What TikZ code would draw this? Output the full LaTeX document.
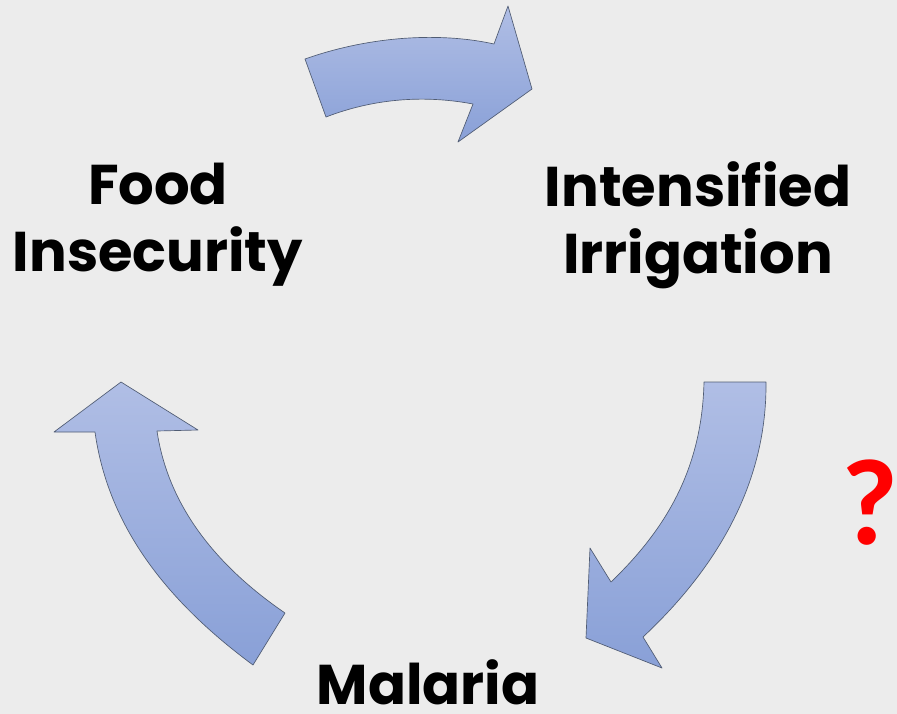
\documentclass[tikz,border=0pt]{standalone}
\usepackage{fontspec}
\setmainfont{Poppins}
\newfontfamily\qfont{Carlito}
\definecolor{paper}{RGB}{236,236,236}
\definecolor{arrowtop}{RGB}{176,190,229}
\definecolor{arrowbot}{RGB}{137,160,215}
\definecolor{arrowline}{RGB}{80,92,115}
\definecolor{qred}{RGB}{255,0,0}
\tikzset{
  cyclearrow/.style={top color=arrowtop, bottom color=arrowbot, draw=arrowline, line width=0.5pt, line join=round},
  stage/.style={align=center, inner sep=0pt, font=\fontsize{42}{50}\selectfont\bfseries}
}
\begin{document}
\begin{tikzpicture}[x=0.75pt, y=-0.75pt]
			\fill[paper] (0,0) rectangle (897,714);
			\useasboundingbox (0,0) rectangle (897,714);
			% top arrow
			\draw[cyclearrow] (305,59) .. controls (370,36) and (440,32) .. (494,44) -- (508,6) -- (532,89) -- (458,142) -- (473,104) .. controls (420,94) and (370,100) .. (326,117) -- cycle;
			% right arrow
			\draw[cyclearrow] (704,382) -- (766,382) .. controls (767,480) and (720,565) .. (643,637) -- (662,668) -- (586,638) -- (590,548) -- (611,582) .. controls (665,530) and (702,470) .. cycle;
			% left arrow
			\draw[cyclearrow] (121,382) -- (198,430) -- (157,431) .. controls (168,505) and (215,565) .. (285,613) -- (253,665) .. controls (165,600) and (108,525) .. (95,432) -- (54,432) -- cycle;
			\node[stage] (food) at (158,225) {Food\\Insecurity};
			\node[stage] (irrig) at (698,225) {Intensified\\Irrigation};
			\node[stage, anchor=base] (malaria) at (428,704) {Malaria};
			\node[font=\qfont\fontsize{92}{92}\selectfont\bfseries, text=qred, inner sep=0pt] (query) at (870,503) {?};
		\end{tikzpicture}
\end{document}
